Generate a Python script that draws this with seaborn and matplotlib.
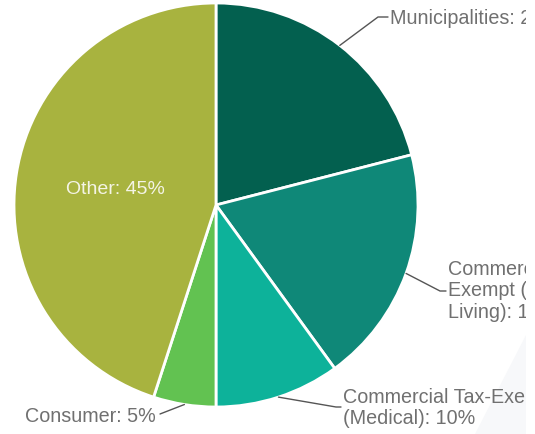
"""
plot.py
pie of portfolio share by customer type, labels outside with leader lines
"""
import numpy as np
import matplotlib
matplotlib.use("Agg")
import matplotlib.pyplot as plt
from matplotlib.patches import Polygon, Rectangle
import seaborn as sns

categories = ["Municipalities", "Commercial Tax-Exempt (Senior Living)",
              "Commercial Tax-Exempt (Medical)", "Consumer", "Other"]
shares = [21, 19, 10, 5, 45]
label_texts = ["Municipalities: 21%", "Commercial Tax-\nExempt (Senior\nLiving): 19%",
               "Commercial Tax-Exempt\n(Medical): 10%", "Consumer: 5%", "Other: 45%"]
colors = ["#03604f", "#0f8878", "#0db29a", "#62c251", "#a8b33f"]

sns.set_theme(style="white")
plt.rcParams['font.family'] = ['Liberation Sans', 'DejaVu Sans']

W, H = 535, 434
fig = plt.figure(figsize=(W / 100, H / 100), dpi=100)
ax = fig.add_axes([0, 0, 1, 1])

cx, cy, r = 216, H - 205, 202
wedges, _ = ax.pie(shares, colors=colors, startangle=90, counterclock=False,
                   center=(cx, cy), radius=r,
                   wedgeprops=dict(edgecolor="white", linewidth=2))
ax.set_xlim(0, W)
ax.set_ylim(0, H)
ax.set_aspect("equal")
ax.axis("off")

# very faint shadow at the lower right of the screenshot
ax.add_patch(Polygon([[526, H - 335], [526, 0], [475, 0]], closed=True,
                     facecolor="#f7f8fa", edgecolor="none", zorder=0))

grey = "#707070"
# (elbow x, elbow y, text x, text y, ha) in pixel coords from top-left
outside = {
    0: (378, 17, 390, 18, "left"),
    1: (440, 291, 448, 291, "left"),
    2: (336, 407, 343, 408, "left"),
    3: (160, 414, 156, 416, "right"),
}
for i, w in enumerate(wedges):
    if i == 4:
        ax.text(115, H - 190, label_texts[i], color="#f4f4e6", fontsize=14,
                ha="center", va="center")
        continue
    ang = np.deg2rad((w.theta1 + w.theta2) / 2)
    px, py = cx + r * np.cos(ang), cy + r * np.sin(ang)
    ex, ey, tx, ty, ha = outside[i]
    if ha == "left":
        xs, ys = [px, ex, tx - 2], [py, H - ey, H - ey]
    else:
        xs, ys = [px, ex], [py, H - ey]
    ax.plot(xs, ys, color="#555555", lw=1)
    ax.text(tx, H - ty, label_texts[i], color=grey, fontsize=14.2, ha=ha,
            va="center", linespacing=1.15)

# the screenshot cuts the labels off at the right
ax.add_patch(Rectangle((526, 0), W - 526, H, facecolor="white",
                       edgecolor="none", zorder=10))

fig.savefig("out.png", dpi=100)
